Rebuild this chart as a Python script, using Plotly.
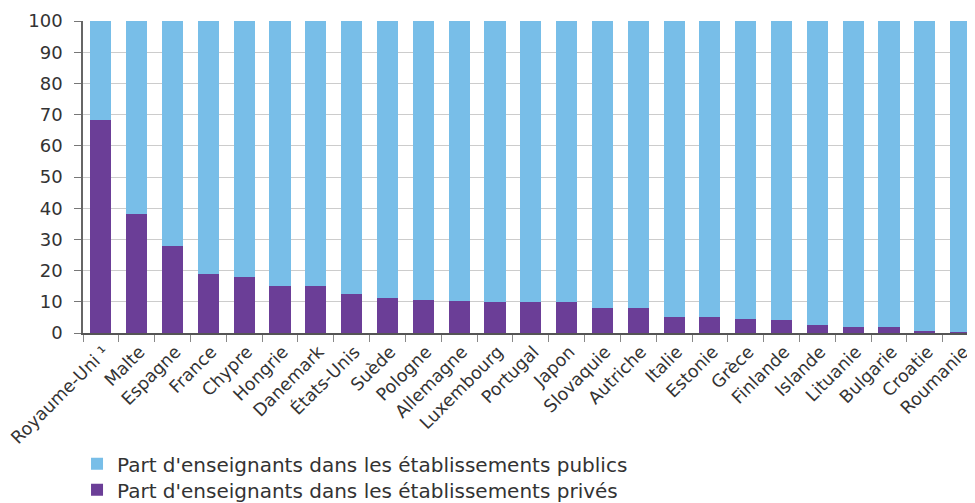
import plotly.graph_objects as go

countries = ["Royaume-Uni ¹", "Malte", "Espagne", "France", "Chypre", "Hongrie", "Danemark",
             "États-Unis", "Suède", "Pologne", "Allemagne", "Luxembourg", "Portugal", "Japon",
             "Slovaquie", "Autriche", "Italie", "Estonie", "Grèce", "Finlande", "Islande",
             "Lituanie", "Bulgarie", "Croatie", "Roumanie"]
prive = [68.3, 38.1, 27.9, 18.9, 17.9, 15.1, 15.1, 12.6, 11.3, 10.7, 10.3, 10.0, 10.0, 10.0,
         8.1, 8.1, 5.2, 5.2, 4.5, 4.2, 2.6, 2.0, 2.0, 0.7, 0.4]
public = [round(100 - v, 1) for v in prive]
y_ticks = [0, 10, 20, 30, 40, 50, 60, 70, 80, 90, 100]

BLUE = "#78BEE8"
PURPLE = "#6B3E97"
TEXT = "#333333"
FONT = "DejaVu Sans"

fig = go.Figure()
fig.add_trace(go.Bar(x=countries, y=prive, name="Part d'enseignants dans les établissements privés",
                     marker=dict(color=PURPLE, line=dict(width=0)), width=0.59, legend="legend2"))
fig.add_trace(go.Bar(x=countries, y=public, name="Part d'enseignants dans les établissements publics",
                     marker=dict(color=BLUE, line=dict(width=0)), width=0.59, legend="legend"))

legend_common = dict(orientation="v", x=-0.0067, xanchor="left", yanchor="top",
                     font=dict(size=20, color=TEXT), bgcolor="rgba(0,0,0,0)")

# page body has an 8px margin: figure is offset by 8px in x and y
fig.update_layout(
    width=967, height=495,
    barmode="stack",
    margin=dict(l=75, r=0, t=13, b=170, autoexpand=False),
    paper_bgcolor="white", plot_bgcolor="white",
    font=dict(family=FONT, size=18, color=TEXT),
    showlegend=True,
    legend=dict(y=-0.3565, **legend_common),
    legend2=dict(y=-0.440, **legend_common),
)
fig.update_xaxes(
    type="category", range=[-0.5, 24.4], tickangle=-45, tickson="boundaries",
    ticks="outside", ticklen=7, tickcolor="#888888", showline=True, linecolor="#555555",
    linewidth=1.5, showgrid=False, tickfont=dict(size=17.5, color=TEXT), automargin=False,
    ticklabelshift=3,
)
fig.update_yaxes(
    range=[0, 100], tickvals=y_ticks, ticks="outside", ticklen=7, tickcolor="#777777",
    showline=True, linecolor="#666666", linewidth=1.5, showgrid=True, gridcolor="#CCCCCC",
    gridwidth=1, zeroline=False, tickfont=dict(size=18, color=TEXT), automargin=False,
    ticklabelstandoff=8,
)

fig.write_html("out.html")
